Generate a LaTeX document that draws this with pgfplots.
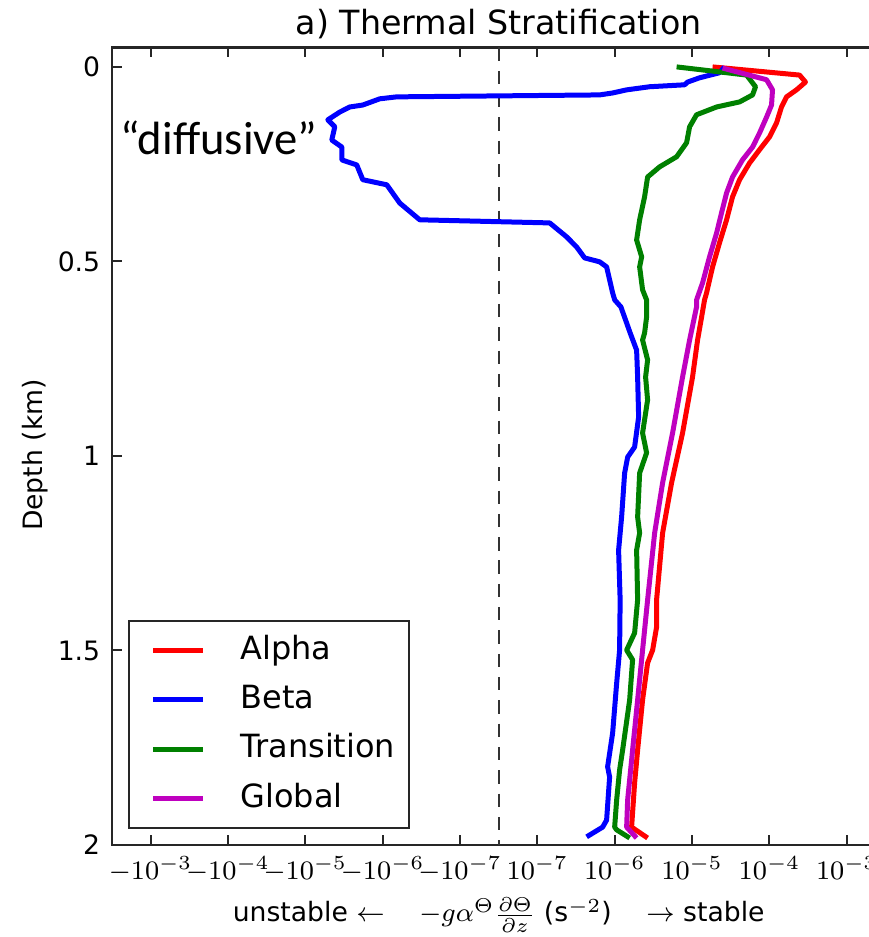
\documentclass[border=0pt]{standalone}
\usepackage{pgfplots}
\usepackage{pgfplotstable}
\pgfplotsset{compat=1.18}
\usepackage{fontspec}
\setmainfont{DejaVu Sans}
\newfontfamily\carlito{Carlito}

\definecolor{cAlpha}{HTML}{FF0000}
\definecolor{cBeta}{HTML}{0000FF}
\definecolor{cTrans}{HTML}{008000}
\definecolor{cGlobal}{HTML}{BF00BF}

% x is a symlog position: u = log10(N2)+7.5 for N2>0, mirrored for N2<0,
% linear in [-1e-7,1e-7]; y is depth in km
\pgfplotstableread{
u d
2.765 0.000
3.889 0.021
3.966 0.039
3.850 0.059
3.721 0.077
3.656 0.103
3.592 0.144
3.501 0.180
3.372 0.213
3.243 0.247
3.114 0.290
3.023 0.334
2.946 0.393
2.855 0.452
2.765 0.514
2.687 0.581
2.661 0.599
2.623 0.643
2.571 0.702
2.506 0.797
2.377 0.941
2.235 1.069
2.119 1.198
2.041 1.370
2.041 1.440
1.990 1.499
1.925 1.532
1.860 1.627
1.796 1.756
1.757 1.841
1.718 1.954
1.925 1.982
}\alphatab

\pgfplotstableread{
u d
2.920 0.000
2.855 0.015
2.597 0.028
2.442 0.039
2.403 0.046
1.951 0.051
1.654 0.059
1.473 0.067
1.305 0.072
-1.318 0.077
-1.537 0.082
-1.757 0.098
-1.925 0.103
-2.054 0.116
-2.209 0.136
-2.119 0.154
-2.158 0.188
-2.028 0.206
-2.028 0.239
-1.835 0.252
-1.757 0.290
-1.447 0.303
-1.279 0.350
-1.021 0.393
0.659 0.401
0.879 0.437
1.008 0.463
1.111 0.491
1.305 0.501
1.395 0.514
1.473 0.581
1.500 0.599
1.580 0.617
1.700 0.684
1.783 0.728
1.796 0.797
1.809 0.900
1.757 0.977
1.667 1.003
1.628 1.044
1.589 1.157
1.550 1.242
1.570 1.370
1.563 1.499
1.525 1.584
1.473 1.712
1.408 1.799
1.434 1.825
1.395 1.936
1.344 1.954
1.137 1.979
}\betatab

\pgfplotstableread{
u d
2.300 0.000
3.204 0.021
3.320 0.051
3.282 0.072
3.114 0.090
2.817 0.103
2.558 0.123
2.468 0.154
2.429 0.195
2.300 0.231
2.080 0.257
1.925 0.283
1.886 0.334
1.822 0.393
1.783 0.445
1.848 0.488
1.822 0.514
1.860 0.573
1.912 0.599
1.912 0.643
1.886 0.684
1.860 0.702
1.925 0.753
1.899 0.797
1.925 0.856
1.860 0.941
1.912 0.992
1.822 1.044
1.796 1.157
1.822 1.198
1.783 1.242
1.796 1.370
1.757 1.455
1.654 1.499
1.731 1.524
1.693 1.627
1.602 1.756
1.563 1.807
1.525 1.884
1.499 1.954
1.525 1.961
1.693 1.982
}\transtab

\pgfplotstableread{
u d
2.894 0.003
3.463 0.033
3.540 0.059
3.527 0.098
3.463 0.129
3.372 0.170
3.282 0.206
3.152 0.239
3.023 0.283
2.946 0.324
2.881 0.375
2.817 0.427
2.726 0.488
2.636 0.555
2.558 0.599
2.558 0.617
2.468 0.702
2.377 0.797
2.248 0.941
2.119 1.069
2.016 1.198
1.925 1.370
1.860 1.499
1.796 1.627
1.731 1.756
1.667 1.884
1.654 1.954
1.783 1.982
}\globaltab

\begin{document}
\begin{tikzpicture}
\begin{axis}[
  width=232.2pt, height=239.4pt, scale only axis,
  xmin=-5, xmax=5, ymin=-0.05, ymax=2, y dir=reverse,
  clip=false,
  xtick={-4.5,-3.5,-2.5,-1.5,-0.5,0.5,1.5,2.5,3.5,4.5},
  xticklabels={$-10^{-3}$,$-10^{-4}$,$-10^{-5}$,$-10^{-6}$,$-10^{-7}$,
    $10^{-7}$,$10^{-6}$,$10^{-5}$,$10^{-4}$,$10^{-3}$},
  ytick={0,0.5,1,1.5,2}, yticklabels={0,0.5,1,1.5,2},
  x tick label style={font=\fontsize{8.5}{10}\selectfont},
  y tick label style={font=\fontsize{8}{10}\selectfont},
  tick align=inside, major tick length=3pt,
  axis line style={black!85, line width=0.8pt},
  tick style={black!85, line width=0.6pt},
  every axis title shift=0pt,
  title={a) Thermal Stratification},
  title style={font=\fontsize{10}{12}\selectfont, at={(axis description cs:0.5,1.0163)}, anchor=base},
  xlabel={unstable $\leftarrow$\hspace{1.3em}$-g\alpha^{\Theta}\frac{\partial\Theta}{\partial z}$ (s$^{-2}$)\hspace{1.3em}$\rightarrow$ stable},
  xlabel style={font=\fontsize{8}{10}\selectfont, at={(axis description cs:0.5,-0.0965)}, anchor=base},
  ylabel={Depth (km)},
  ylabel style={font=\fontsize{8}{10}\selectfont, at={(axis description cs:-0.0995,0.489)}, anchor=center},
  legend cell align=left,
  legend image code/.code={\path (0pt,0pt); \draw[#1] (2.4pt,0pt) -- (17.4pt,0pt);},
  legend style={at={(axis description cs:0.0207,0.02)}, anchor=south west,
    draw=black!85, line width=0.6pt, fill=white,
    font=\fontsize{9.6}{11}\selectfont,
    inner xsep=4.2pt, inner ysep=4.2pt, row sep=5.4pt, column sep=10.4pt,
    nodes={inner sep=0pt, text height=7.3pt, text depth=2.1pt}},
]
\addplot[black!80, line width=0.6pt, dash pattern=on 4pt off 3pt, forget plot]
  coordinates {(0,-0.05) (0,2)};
\addplot[cAlpha, line width=1.5pt, line join=round] table[x=u, y=d] {\alphatab};
\addplot[cBeta, line width=1.5pt, line join=round] table[x=u, y=d] {\betatab};
\addplot[cTrans, line width=1.5pt, line join=round] table[x=u, y=d] {\transtab};
\addplot[cGlobal, line width=1.5pt, line join=round] table[x=u, y=d] {\globaltab};
\legend{Alpha, Beta, Transition, Global}
\node[anchor=base west, inner sep=0pt, font=\carlito\fontsize{14}{16}\selectfont]
  at (axis cs:-4.897,0.226) {“diffusive”};
\coordinate (bbA) at (axis cs:-6.447,-0.172);
\coordinate (bbB) at (axis cs:4.780,2.2365);
\end{axis}
\pgfresetboundingbox
\path[use as bounding box] (bbA) rectangle (bbB);
\end{tikzpicture}
\end{document}
